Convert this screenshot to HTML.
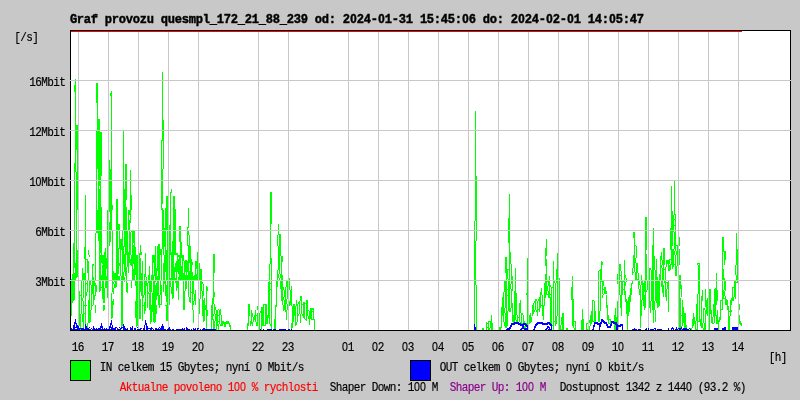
<!DOCTYPE html>
<html lang="cs"><head><meta charset="utf-8"><title>Graf provozu</title>
<style>html,body{margin:0;padding:0;background:#c8c8c8;overflow:hidden}svg{display:block;will-change:transform}text{font-family:"Liberation Mono","DejaVu Sans Mono",monospace;white-space:pre}.z{font-family:"Liberation Sans",sans-serif}</style></head><body>
<svg width="800" height="400" viewBox="0 0 800 400">
<rect x="0" y="0" width="800" height="400" fill="#c8c8c8"/>
<rect x="70" y="30" width="721" height="301" fill="#fff"/>
<path fill="#00ff00" shape-rendering="crispEdges" d="M71 279v37h1v-37zM72 274v29h1v-29zM73 243v58h1v-58zM74 85v7h1v-7zM74 163v105h1v-105zM74 273v27h1v-27zM75 79v93h1v-93zM75 263v17h1v-17zM76 125v25h1v-25zM76 172v106h1v-106zM77 125v85h1v-85zM77 250v27h1v-27zM79 291v35h1v-35zM80 295v1h1v-1zM80 314v16h1v-16zM81 281v33h1v-33zM82 268v13h1v-13zM82 298v3h1v-3zM82 314v8h1v-8zM83 273v7h1v-7zM83 281v17h1v-17zM83 301v29h1v-29zM84 247v12h1v-12zM84 273v7h1v-7zM84 305v1h1v-1zM84 313v1h1v-1zM85 195v85h1v-85zM85 281v47h1v-47zM86 259v1h1v-1zM86 283v1h1v-1zM86 292v4h1v-4zM86 305v1h1v-1zM87 259v14h1v-14zM87 281v11h1v-11zM87 323v5h1v-5zM88 250v5h1v-5zM88 261v19h1v-19zM88 300v23h1v-23zM89 255v2h1v-2zM89 281v42h1v-42zM90 281v4h1v-4zM90 310v12h1v-12zM91 285v25h1v-25zM92 264v16h1v-16zM92 281v13h1v-13zM92 305v1h1v-1zM93 264v2h1v-2zM93 277v3h1v-3zM93 281v24h1v-24zM94 281v5h1v-5zM94 295v5h1v-5zM95 233v47h1v-47zM95 283v13h1v-13zM95 305v8h1v-8zM96 83v20h1v-20zM96 131v102h1v-102zM96 285v7h1v-7zM97 83v86h1v-86zM97 210v23h1v-23zM98 119v122h1v-122zM99 119v67h1v-67zM99 189v103h1v-103zM100 132v121h1v-121zM100 255v36h1v-36zM101 132v44h1v-44zM101 207v56h1v-56zM101 275v6h1v-6zM101 287v1h1v-1zM102 255v9h1v-9zM102 265v34h1v-34zM103 255v48h1v-48zM103 305v6h1v-6zM104 252v29h1v-29zM104 288v15h1v-15zM104 305v5h1v-5zM105 248v40h1v-40zM106 258v11h1v-11zM106 276v12h1v-12zM107 210v88h1v-88zM108 147v13h1v-13zM108 193v62h1v-62zM109 160v52h1v-52zM109 222v24h1v-24zM110 93v3h1v-3zM110 169v73h1v-73zM111 91v140h1v-140zM111 293v26h1v-26zM112 205v5h1v-5zM112 231v49h1v-49zM112 281v11h1v-11zM112 301v17h1v-17zM113 271v10h1v-10zM113 282v2h1v-2zM113 288v6h1v-6zM113 299v6h1v-6zM114 273v9h1v-9zM114 284v4h1v-4zM115 273v15h1v-15zM116 199v88h1v-88zM117 199v81h1v-81zM118 224v7h1v-7zM118 248v26h1v-26zM118 276v4h1v-4zM119 224v25h1v-25zM119 263v3h1v-3zM119 276v4h1v-4zM120 239v37h1v-37zM121 239v11h1v-11zM121 276v52h1v-52zM122 231v49h1v-49zM122 281v45h1v-45zM123 131v100h1v-100zM123 246v18h1v-18zM123 272v8h1v-8zM124 189v58h1v-58zM124 254v18h1v-18zM124 277v5h1v-5zM125 164v112h1v-112zM126 164v36h1v-36zM126 207v48h1v-48zM126 267v13h1v-13zM126 281v11h1v-11zM127 231v36h1v-36zM127 283v10h1v-10zM128 210v21h1v-21zM128 252v21h1v-21zM129 210v5h1v-5zM129 220v43h1v-43zM130 170v53h1v-53zM130 232v23h1v-23zM130 259v6h1v-6zM131 195v15h1v-15zM131 231v1h1v-1zM131 255v11h1v-11zM131 281v7h1v-7zM132 231v49h1v-49zM133 231v12h1v-12zM133 245v19h1v-19zM133 269v11h1v-11zM134 231v49h1v-49zM135 247v28h1v-28zM135 280v6h1v-6zM135 301v17h1v-17zM136 255v72h1v-72zM137 255v71h1v-71zM138 264v16h1v-16zM139 253v66h1v-66zM140 245v10h1v-10zM140 258v22h1v-22zM140 281v11h1v-11zM140 299v20h1v-20zM141 252v3h1v-3zM141 273v23h1v-23zM142 261v19h1v-19zM142 281v40h1v-40zM143 280v1h1v-1zM143 295v3h1v-3zM143 305v1h1v-1zM144 274v21h1v-21zM144 302v12h1v-12zM145 253v24h1v-24zM145 280v31h1v-31zM146 277v9h1v-9zM147 283v25h1v-25zM148 275v5h1v-5zM148 281v2h1v-2zM148 292v2h1v-2zM149 266v26h1v-26zM149 293v17h1v-17zM150 280v44h1v-44zM151 275v17h1v-17zM151 305v17h1v-17zM152 255v25h1v-25zM152 293v19h1v-19zM153 255v8h1v-8zM153 275v47h1v-47zM154 255v21h1v-21zM154 280v43h1v-43zM155 246v36h1v-36zM155 285v37h1v-37zM156 268v12h1v-12zM156 283v17h1v-17zM156 305v9h1v-9zM157 246v25h1v-25zM157 276v20h1v-20zM158 244v61h1v-61zM159 244v36h1v-36zM159 295v13h1v-13zM160 249v6h1v-6zM160 281v14h1v-14zM160 304v1h1v-1zM161 140v70h1v-70zM161 249v31h1v-31zM161 285v20h1v-20zM162 72v69h1v-69zM162 169v35h1v-35zM162 208v41h1v-41zM163 120v49h1v-49zM163 210v45h1v-45zM163 263v17h1v-17zM163 281v11h1v-11zM164 228v19h1v-19zM164 255v29h1v-29zM165 208v64h1v-64zM165 280v16h1v-16zM165 305v1h1v-1zM166 196v35h1v-35zM166 250v30h1v-30zM166 285v17h1v-17zM166 305v16h1v-16zM167 196v125h1v-125zM168 241v14h1v-14zM169 225v55h1v-55zM169 281v24h1v-24zM170 192v63h1v-63zM170 278v9h1v-9zM171 189v4h1v-4zM171 252v29h1v-29zM171 287v7h1v-7zM172 241v58h1v-58zM173 196v102h1v-102zM174 196v59h1v-59zM174 267v14h1v-14zM175 209v46h1v-46zM175 263v9h1v-9zM175 278v5h1v-5zM176 253v2h1v-2zM176 261v30h1v-30zM177 253v19h1v-19zM177 281v7h1v-7zM178 255v2h1v-2zM178 259v15h1v-15zM178 277v23h1v-23zM179 226v16h1v-16zM179 255v26h1v-26zM180 226v54h1v-54zM181 242v16h1v-16zM181 266v14h1v-14zM182 255v25h1v-25zM183 255v6h1v-6zM183 273v37h1v-37zM184 261v20h1v-20zM184 291v19h1v-19zM185 260v12h1v-12zM185 275v16h1v-16zM186 260v20h1v-20zM186 281v8h1v-8zM187 227v19h1v-19zM187 261v11h1v-11zM187 275v6h1v-6zM188 208v20h1v-20zM188 231v4h1v-4zM188 245v52h1v-52zM189 235v28h1v-28zM189 271v10h1v-10zM189 297v5h1v-5zM190 246v57h1v-57zM191 259v22h1v-22zM191 292v1h1v-1zM192 262v3h1v-3zM192 272v38h1v-38zM193 276v18h1v-18zM193 301v4h1v-4zM193 310v13h1v-13zM194 275v6h1v-6zM194 294v7h1v-7zM195 261v19h1v-19zM195 290v15h1v-15zM196 261v8h1v-8zM196 274v6h1v-6zM197 252v29h1v-29zM198 263v47h1v-47zM199 263v18h1v-18zM199 299v15h1v-15zM200 269v30h1v-30zM201 269v22h1v-22zM202 282v2h1v-2zM202 291v25h1v-25zM203 284v12h1v-12zM203 300v22h1v-22zM204 298v23h1v-23zM205 305v5h1v-5zM206 286v44h1v-44zM207 287v4h1v-4zM207 310v6h1v-6zM211 305v25h1v-25zM212 298v22h1v-22zM213 254v50h1v-50zM213 314v2h1v-2zM213 319v11h1v-11zM214 254v19h1v-19zM214 292v5h1v-5zM214 304v10h1v-10zM214 321v9h1v-9zM215 307v3h1v-3zM215 314v7h1v-7zM215 329v1h1v-1zM216 310v20h1v-20zM217 310v16h1v-16zM218 309v1h1v-1zM218 315v1h1v-1zM218 321v1h1v-1zM218 324v6h1v-6zM219 310v14h1v-14zM220 309v6h1v-6zM220 324v2h1v-2zM221 315v11h1v-11zM222 321v5h1v-5zM223 321v3h1v-3zM224 322v5h1v-5zM225 322v5h1v-5zM226 321v3h1v-3zM227 321v3h1v-3zM228 321v3h1v-3zM229 323v4h1v-4zM230 325v5h1v-5zM247 323v7h1v-7zM248 304v22h1v-22zM249 304v12h1v-12zM250 321v5h1v-5zM251 310v14h1v-14zM252 313v4h1v-4zM252 322v4h1v-4zM253 317v5h1v-5zM254 315v5h1v-5zM255 310v12h1v-12zM256 315v1h1v-1zM256 322v4h1v-4zM257 306v4h1v-4zM257 313v13h1v-13zM258 306v7h1v-7zM258 326v4h1v-4zM259 313v17h1v-17zM260 311v2h1v-2zM260 329v1h1v-1zM261 307v23h1v-23zM262 307v19h1v-19zM263 304v22h1v-22zM264 304v1h1v-1zM264 325v1h1v-1zM265 304v22h1v-22zM266 304v20h1v-20zM267 315v9h1v-9zM268 282v36h1v-36zM269 264v60h1v-60zM270 192v72h1v-72zM270 283v1h1v-1zM270 289v1h1v-1zM270 324v2h1v-2zM271 192v32h1v-32zM271 258v72h1v-72zM274 319v11h1v-11zM275 305v25h1v-25zM276 281v26h1v-26zM277 235v11h1v-11zM277 270v17h1v-17zM278 224v11h1v-11zM278 246v24h1v-24zM278 274v4h1v-4zM278 280v1h1v-1zM279 234v40h1v-40zM279 278v3h1v-3zM280 234v22h1v-22zM280 274v4h1v-4zM280 281v8h1v-8zM281 256v45h1v-45zM282 256v6h1v-6zM282 275v30h1v-30zM283 287v3h1v-3zM283 297v3h1v-3zM283 305v6h1v-6zM284 290v7h1v-7zM284 300v10h1v-10zM285 287v25h1v-25zM286 281v6h1v-6zM286 299v5h1v-5zM286 310v10h1v-10zM287 281v18h1v-18zM287 304v6h1v-6zM288 278v23h1v-23zM289 278v12h1v-12zM289 301v5h1v-5zM290 290v15h1v-15zM291 286v20h1v-20zM291 323v7h1v-7zM292 306v22h1v-22zM293 304v18h1v-18zM294 304v12h1v-12zM295 306v20h1v-20zM296 300v6h1v-6zM296 322v3h1v-3zM297 304v18h1v-18zM298 302v2h1v-2zM298 314v2h1v-2zM299 301v13h1v-13zM300 296v5h1v-5zM300 314v9h1v-9zM301 296v18h1v-18zM302 304v1h1v-1zM302 314v2h1v-2zM303 302v16h1v-16zM304 302v17h1v-17zM305 303v1h1v-1zM305 319v1h1v-1zM306 300v21h1v-21zM307 300v16h1v-16zM308 310v1h1v-1zM308 316v3h1v-3zM309 311v14h1v-14zM310 308v11h1v-11zM311 308v12h1v-12zM312 308v2h1v-2zM312 311v1h1v-1zM312 319v1h1v-1zM313 308v12h1v-12zM314 319v11h1v-11zM474 221v105h1v-105zM475 111v110h1v-110zM475 241v44h1v-44zM476 176v65h1v-65zM476 285v45h1v-45zM482 328v2h1v-2zM483 328v2h1v-2zM486 322v8h1v-8zM487 323v1h1v-1zM487 327v1h1v-1zM488 321v9h1v-9zM489 321v1h1v-1zM489 328v2h1v-2zM490 321v7h1v-7zM491 315v15h1v-15zM492 323v7h1v-7zM499 327v3h1v-3zM500 327v3h1v-3zM501 307v21h1v-21zM502 297v19h1v-19zM503 292v30h1v-30zM504 281v11h1v-11zM504 308v5h1v-5zM504 322v4h1v-4zM505 257v16h1v-16zM505 281v27h1v-27zM505 313v15h1v-15zM506 257v71h1v-71zM507 269v10h1v-10zM507 289v1h1v-1zM507 295v1h1v-1zM507 311v15h1v-15zM508 218v25h1v-25zM508 269v1h1v-1zM508 279v32h1v-32zM509 194v118h1v-118zM510 252v12h1v-12zM510 284v5h1v-5zM510 308v4h1v-4zM511 264v20h1v-20zM511 289v19h1v-19zM512 276v15h1v-15zM512 303v19h1v-19zM513 315v9h1v-9zM514 291v31h1v-31zM515 268v52h1v-52zM516 293v22h1v-22zM516 320v2h1v-2zM517 315v7h1v-7zM518 317v1h1v-1zM518 322v2h1v-2zM519 303v19h1v-19zM520 300v13h1v-13zM520 322v4h1v-4zM521 313v13h1v-13zM522 313v2h1v-2zM522 323v1h1v-1zM523 315v11h1v-11zM524 321v2h1v-2zM524 326v2h1v-2zM525 323v7h1v-7zM526 293v2h1v-2zM526 323v1h1v-1zM526 328v2h1v-2zM527 258v70h1v-70zM529 315v9h1v-9zM530 313v10h1v-10zM531 317v5h1v-5zM532 305v11h1v-11zM533 303v11h1v-11zM534 301v2h1v-2zM534 310v2h1v-2zM535 299v11h1v-11zM536 299v2h1v-2zM536 310v2h1v-2zM537 301v15h1v-15zM538 299v2h1v-2zM538 309v1h1v-1zM539 297v15h1v-15zM540 292v16h1v-16zM541 288v7h1v-7zM541 305v1h1v-1zM542 295v21h1v-21zM543 305v15h1v-15zM544 283v23h1v-23zM545 248v18h1v-18zM545 274v24h1v-24zM546 239v17h1v-17zM546 259v36h1v-36zM547 281v1h1v-1zM547 286v5h1v-5zM547 294v1h1v-1zM548 281v5h1v-5zM548 291v7h1v-7zM549 276v22h1v-22zM550 285v2h1v-2zM550 294v1h1v-1zM550 297v29h1v-29zM551 287v43h1v-43zM552 287v1h1v-1zM552 325v1h1v-1zM553 261v69h1v-69zM554 281v2h1v-2zM554 321v1h1v-1zM555 283v43h1v-43zM556 269v14h1v-14zM556 316v8h1v-8zM557 253v63h1v-63zM558 265v13h1v-13zM558 294v1h1v-1zM559 278v52h1v-52zM560 325v5h1v-5zM561 317v8h1v-8zM561 329v1h1v-1zM562 313v17h1v-17zM563 313v17h1v-17zM566 328v2h1v-2zM567 328v2h1v-2zM571 287v13h1v-13zM572 276v50h1v-50zM573 299v29h1v-29zM574 321v1h1v-1zM574 328v2h1v-2zM575 321v9h1v-9zM581 320v10h1v-10zM582 309v21h1v-21zM583 319v11h1v-11zM586 323v7h1v-7zM587 323v1h1v-1zM587 329v1h1v-1zM588 323v7h1v-7zM589 320v3h1v-3zM589 326v4h1v-4zM590 315v11h1v-11zM591 311v13h1v-13zM592 300v22h1v-22zM593 300v1h1v-1zM593 321v1h1v-1zM594 301v23h1v-23zM595 311v11h1v-11zM598 271v51h1v-51zM599 270v1h1v-1zM599 280v1h1v-1zM599 311v11h1v-11zM600 269v11h1v-11zM600 281v30h1v-30zM601 261v21h1v-21zM602 262v3h1v-3zM602 281v13h1v-13zM602 295v3h1v-3zM603 281v5h1v-5zM603 289v1h1v-1zM603 294v1h1v-1zM604 287v7h1v-7zM605 287v7h1v-7zM606 291v3h1v-3zM606 295v13h1v-13zM607 305v15h1v-15zM608 315v9h1v-9zM609 319v1h1v-1zM609 323v1h1v-1zM610 319v5h1v-5zM614 315v15h1v-15zM615 308v22h1v-22zM616 317v13h1v-13zM617 274v10h1v-10zM617 301v29h1v-29zM618 265v9h1v-9zM618 284v11h1v-11zM619 264v31h1v-31zM620 264v7h1v-7zM620 275v1h1v-1zM620 281v1h1v-1zM620 295v13h1v-13zM621 271v45h1v-45zM622 281v14h1v-14zM623 281v1h1v-1zM623 289v1h1v-1zM624 260v35h1v-35zM625 275v3h1v-3zM625 282v4h1v-4zM625 291v11h1v-11zM626 278v4h1v-4zM626 299v15h1v-15zM627 301v29h1v-29zM628 297v19h1v-19zM629 295v17h1v-17zM630 288v14h1v-14zM631 283v12h1v-12zM632 268v7h1v-7zM632 281v3h1v-3zM633 232v6h1v-6zM633 255v13h1v-13zM633 272v1h1v-1zM634 232v40h1v-40zM635 245v1h1v-1zM635 258v5h1v-5zM635 272v8h1v-8zM636 246v12h1v-12zM636 263v17h1v-17zM637 263v10h1v-10zM637 279v1h1v-1zM638 273v16h1v-16zM639 281v4h1v-4zM639 289v6h1v-6zM640 285v43h1v-43zM641 275v10h1v-10zM641 300v16h1v-16zM642 281v19h1v-19zM643 283v23h1v-23zM644 281v11h1v-11zM644 295v15h1v-15zM645 217v91h1v-91zM646 217v33h1v-33zM646 254v27h1v-27zM646 290v2h1v-2zM647 281v9h1v-9zM649 268v40h1v-40zM650 268v2h1v-2zM650 301v12h1v-12zM651 270v31h1v-31zM652 245v65h1v-65zM653 228v95h1v-95zM654 256v14h1v-14zM654 301v9h1v-9zM655 270v31h1v-31zM655 310v12h1v-12zM656 259v44h1v-44zM657 277v31h1v-31zM658 281v26h1v-26zM659 274v32h1v-32zM660 256v25h1v-25zM661 252v8h1v-8zM661 265v3h1v-3zM661 281v6h1v-6zM662 260v5h1v-5zM662 268v25h1v-25zM663 248v33h1v-33zM663 285v12h1v-12zM664 248v17h1v-17zM664 269v1h1v-1zM664 281v2h1v-2zM665 267v30h1v-30zM666 260v7h1v-7zM666 282v1h1v-1zM666 289v12h1v-12zM667 260v4h1v-4zM667 282v7h1v-7zM668 260v11h1v-11zM668 280v32h1v-32zM669 259v5h1v-5zM669 265v6h1v-6zM670 228v22h1v-22zM670 259v1h1v-1zM670 264v6h1v-6zM671 186v79h1v-79zM672 211v35h1v-35zM672 249v20h1v-20zM673 215v17h1v-17zM673 249v18h1v-18zM674 181v34h1v-34zM674 219v1h1v-1zM674 225v1h1v-1zM674 232v17h1v-17zM674 251v4h1v-4zM674 264v1h1v-1zM675 214v37h1v-37zM675 255v21h1v-21zM676 245v1h1v-1zM676 251v4h1v-4zM676 266v10h1v-10zM677 245v21h1v-21zM678 228v18h1v-18zM679 237v9h1v-9zM679 249v16h1v-16zM679 275v55h1v-55zM680 275v14h1v-14zM680 298v32h1v-32zM681 285v12h1v-12zM681 315v1h1v-1zM681 326v4h1v-4zM682 300v26h1v-26zM683 307v16h1v-16zM684 313v15h1v-15zM685 313v17h1v-17zM686 325v5h1v-5zM690 328v2h1v-2zM691 328v2h1v-2zM692 319v9h1v-9zM693 313v13h1v-13zM694 317v7h1v-7zM695 321v9h1v-9zM696 304v17h1v-17zM696 329v1h1v-1zM697 263v2h1v-2zM697 294v36h1v-36zM698 263v1h1v-1zM698 265v29h1v-29zM698 321v1h1v-1zM699 263v59h1v-59zM700 319v7h1v-7zM701 296v32h1v-32zM702 290v11h1v-11zM702 323v5h1v-5zM703 308v15h1v-15zM703 328v2h1v-2zM704 308v2h1v-2zM704 323v7h1v-7zM705 289v18h1v-18zM705 310v20h1v-20zM706 300v14h1v-14zM707 298v18h1v-18zM708 290v8h1v-8zM708 315v1h1v-1zM709 289v41h1v-41zM710 289v25h1v-25zM711 310v13h1v-13zM712 317v7h1v-7zM713 304v13h1v-13zM713 323v1h1v-1zM714 289v34h1v-34zM715 288v28h1v-28zM716 273v32h1v-32zM716 315v9h1v-9zM717 290v11h1v-11zM717 310v14h1v-14zM718 320v10h1v-10zM719 317v5h1v-5zM720 300v20h1v-20zM721 300v1h1v-1zM721 309v1h1v-1zM722 237v73h1v-73zM723 237v15h1v-15zM723 269v12h1v-12zM723 290v9h1v-9zM724 251v14h1v-14zM724 278v2h1v-2zM724 281v9h1v-9zM724 291v5h1v-5zM724 298v1h1v-1zM725 251v9h1v-9zM725 280v11h1v-11zM725 296v9h1v-9zM726 299v6h1v-6zM727 300v10h1v-10zM728 306v24h1v-24zM729 311v1h1v-1zM729 316v14h1v-14zM730 300v16h1v-16zM731 298v7h1v-7zM731 310v2h1v-2zM732 287v14h1v-14zM733 287v1h1v-1zM733 297v4h1v-4zM734 280v17h1v-17zM735 265v10h1v-10zM735 280v19h1v-19zM736 233v32h1v-32zM736 275v5h1v-5zM736 282v1h1v-1zM737 249v34h1v-34zM738 304v18h1v-18zM739 304v6h1v-6zM739 315v9h1v-9zM740 321v4h1v-4zM741 323v3h1v-3z"/>
<g fill="#c8c8c8" shape-rendering="crispEdges"><rect x="78" y="31" width="1" height="299"/><rect x="108" y="31" width="1" height="299"/><rect x="138" y="31" width="1" height="299"/><rect x="168" y="31" width="1" height="299"/><rect x="198" y="31" width="1" height="299"/><rect x="258" y="31" width="1" height="299"/><rect x="288" y="31" width="1" height="299"/><rect x="348" y="31" width="1" height="299"/><rect x="378" y="31" width="1" height="299"/><rect x="408" y="31" width="1" height="299"/><rect x="438" y="31" width="1" height="299"/><rect x="468" y="31" width="1" height="299"/><rect x="498" y="31" width="1" height="299"/><rect x="528" y="31" width="1" height="299"/><rect x="558" y="31" width="1" height="299"/><rect x="588" y="31" width="1" height="299"/><rect x="618" y="31" width="1" height="299"/><rect x="648" y="31" width="1" height="299"/><rect x="678" y="31" width="1" height="299"/><rect x="708" y="31" width="1" height="299"/><rect x="738" y="31" width="1" height="299"/></g>
<path fill="#0000ff" shape-rendering="crispEdges" d="M71 328v2h1v-2zM72 329v1h1v-1zM73 325v5h1v-5zM74 322v8h1v-8zM75 319v5h1v-5zM75 327v1h1v-1zM75 329v1h1v-1zM76 323v5h1v-5zM76 329v1h1v-1zM77 325v5h1v-5zM78 326v4h1v-4zM79 328v2h1v-2zM80 328v1h1v-1zM81 328v2h1v-2zM82 328v2h1v-2zM83 328v2h1v-2zM84 329v1h1v-1zM85 324v6h1v-6zM86 326v4h1v-4zM87 328v2h1v-2zM88 328v2h1v-2zM89 327v1h1v-1zM89 329v1h1v-1zM90 329v1h1v-1zM91 328v1h1v-1zM92 329v1h1v-1zM93 326v4h1v-4zM94 328v2h1v-2zM95 329v1h1v-1zM96 328v2h1v-2zM97 329v1h1v-1zM98 328v2h1v-2zM99 328v2h1v-2zM100 326v4h1v-4zM101 323v5h1v-5zM101 329v1h1v-1zM102 326v4h1v-4zM103 329v1h1v-1zM104 328v2h1v-2zM105 329v1h1v-1zM106 328v2h1v-2zM107 329v1h1v-1zM108 329v1h1v-1zM109 326v4h1v-4zM110 323v5h1v-5zM110 329v1h1v-1zM111 320v5h1v-5zM111 327v3h1v-3zM112 325v5h1v-5zM113 328v2h1v-2zM114 328v2h1v-2zM115 327v3h1v-3zM116 327v1h1v-1zM117 328v2h1v-2zM118 329v1h1v-1zM119 327v1h1v-1zM119 329v1h1v-1zM120 328v2h1v-2zM121 327v2h1v-2zM122 327v1h1v-1zM123 324v6h1v-6zM124 326v4h1v-4zM125 328v2h1v-2zM126 329v1h1v-1zM127 328v2h1v-2zM130 327v3h1v-3zM131 328v2h1v-2zM132 326v4h1v-4zM134 328v2h1v-2zM135 328v2h1v-2zM137 327v1h1v-1zM137 329v1h1v-1zM138 329v1h1v-1zM139 329v1h1v-1zM140 328v2h1v-2zM141 328v1h1v-1zM143 328v2h1v-2zM144 325v5h1v-5zM145 320v5h1v-5zM146 323v7h1v-7zM147 326v4h1v-4zM148 328v1h1v-1zM149 328v1h1v-1zM150 328v2h1v-2zM151 327v3h1v-3zM152 328v1h1v-1zM153 329v1h1v-1zM155 328v2h1v-2zM156 328v2h1v-2zM157 329v1h1v-1zM158 328v2h1v-2zM159 327v1h1v-1zM159 329v1h1v-1zM160 328v2h1v-2zM161 326v4h1v-4zM162 324v6h1v-6zM163 326v4h1v-4zM164 329v1h1v-1zM165 329v1h1v-1zM167 329v1h1v-1zM168 328v2h1v-2zM169 327v3h1v-3zM170 329v1h1v-1zM172 329v1h1v-1zM173 329v1h1v-1zM176 329v1h1v-1zM177 329v1h1v-1zM178 329v1h1v-1zM179 329v1h1v-1zM180 329v1h1v-1zM181 329v1h1v-1zM182 328v2h1v-2zM183 329v1h1v-1zM184 328v2h1v-2zM186 327v3h1v-3zM187 328v2h1v-2zM188 329v1h1v-1zM189 329v1h1v-1zM191 329v1h1v-1zM193 328v2h1v-2zM194 329v1h1v-1zM195 328v2h1v-2zM197 328v2h1v-2zM198 328v1h1v-1zM200 329v1h1v-1zM202 329v1h1v-1zM203 328v2h1v-2zM204 328v2h1v-2zM205 329v1h1v-1zM206 329v1h1v-1zM207 329v1h1v-1zM208 329v1h1v-1zM209 329v1h1v-1zM210 329v1h1v-1zM211 329v1h1v-1zM212 329v1h1v-1zM213 329v1h1v-1zM214 329v1h1v-1zM215 329v1h1v-1zM260 329v1h1v-1zM263 329v1h1v-1zM267 329v1h1v-1zM268 329v1h1v-1zM269 329v1h1v-1zM270 329v1h1v-1zM271 329v1h1v-1zM273 329v1h1v-1zM274 329v1h1v-1zM275 329v1h1v-1zM279 329v1h1v-1zM280 329v1h1v-1zM281 329v1h1v-1zM282 329v1h1v-1zM283 329v1h1v-1zM284 329v1h1v-1zM285 329v1h1v-1zM288 329v1h1v-1zM289 329v1h1v-1zM291 329v1h1v-1zM474 324v6h1v-6zM475 327v3h1v-3zM506 329v1h1v-1zM507 328v2h1v-2zM508 328v2h1v-2zM509 327v3h1v-3zM510 325v4h1v-4zM511 323v4h1v-4zM512 323v2h1v-2zM513 323v2h1v-2zM514 322v3h1v-3zM515 322v2h1v-2zM516 322v2h1v-2zM517 322v2h1v-2zM518 322v3h1v-3zM519 323v2h1v-2zM520 323v3h1v-3zM520 329v1h1v-1zM521 324v2h1v-2zM521 328v2h1v-2zM522 324v5h1v-5zM523 323v6h1v-6zM524 323v2h1v-2zM524 328v2h1v-2zM525 323v3h1v-3zM525 328v2h1v-2zM526 324v3h1v-3zM526 328v2h1v-2zM527 325v5h1v-5zM533 329v1h1v-1zM534 326v4h1v-4zM535 324v4h1v-4zM536 323v3h1v-3zM537 322v3h1v-3zM538 322v2h1v-2zM539 322v2h1v-2zM540 322v2h1v-2zM541 322v2h1v-2zM542 322v3h1v-3zM543 323v2h1v-2zM544 323v2h1v-2zM545 323v2h1v-2zM545 329v1h1v-1zM546 323v2h1v-2zM546 328v2h1v-2zM547 322v3h1v-3zM547 326v3h1v-3zM548 322v2h1v-2zM548 326v2h1v-2zM548 329v1h1v-1zM549 322v3h1v-3zM549 327v3h1v-3zM550 323v3h1v-3zM550 329v1h1v-1zM551 324v6h1v-6zM592 329v1h1v-1zM593 325v5h1v-5zM594 322v5h1v-5zM595 322v2h1v-2zM596 322v2h1v-2zM597 322v3h1v-3zM598 323v2h1v-2zM599 323v7h1v-7zM600 322v5h1v-5zM601 319v5h1v-5zM602 319v3h1v-3zM603 320v3h1v-3zM604 321v3h1v-3zM605 322v2h1v-2zM606 322v4h1v-4zM607 324v4h1v-4zM608 326v2h1v-2zM609 326v2h1v-2zM610 324v4h1v-4zM611 321v5h1v-5zM612 321v2h1v-2zM613 321v3h1v-3zM614 322v2h1v-2zM615 322v3h1v-3zM616 322v8h1v-8zM617 324v6h1v-6zM618 325v2h1v-2zM619 325v2h1v-2zM620 324v3h1v-3zM621 324v2h1v-2zM622 324v6h1v-6zM632 329v1h1v-1zM633 329v1h1v-1zM634 328v2h1v-2zM635 329v1h1v-1zM636 329v1h1v-1zM638 329v1h1v-1zM639 329v1h1v-1zM640 329v1h1v-1zM645 329v1h1v-1zM646 328v2h1v-2zM648 328v2h1v-2zM650 329v1h1v-1zM651 329v1h1v-1zM652 329v1h1v-1zM653 329v1h1v-1zM654 328v1h1v-1zM655 328v2h1v-2zM657 329v1h1v-1zM658 329v1h1v-1zM659 329v1h1v-1zM660 329v1h1v-1zM661 329v1h1v-1zM668 328v2h1v-2zM671 328v2h1v-2zM672 327v2h1v-2zM673 328v2h1v-2zM675 329v1h1v-1zM676 327v3h1v-3zM677 329v1h1v-1zM678 328v1h1v-1zM679 328v2h1v-2zM680 328v2h1v-2zM681 327v2h1v-2zM682 329v1h1v-1zM683 328v2h1v-2zM684 328v2h1v-2zM685 328v2h1v-2zM686 328v2h1v-2zM687 329v1h1v-1zM688 329v1h1v-1zM689 328v1h1v-1zM690 329v1h1v-1zM714 328v2h1v-2zM715 328v2h1v-2zM716 328v2h1v-2zM717 328v2h1v-2zM722 328v2h1v-2zM723 328v2h1v-2zM724 327v3h1v-3zM725 327v3h1v-3zM732 327v3h1v-3zM733 327v3h1v-3zM734 327v3h1v-3zM735 327v3h1v-3zM736 327v3h1v-3zM737 327v3h1v-3z"/>
<path fill="#000" shape-rendering="crispEdges" d="M70 30h721v1h-721zM70 330h721v1h-721zM70 30h1v301h-1zM790 30h1v301h-1z"/>
<rect x="71" y="31" width="671" height="1" fill="#ff0000" shape-rendering="crispEdges"/>
<g fill="#c8c8c8" shape-rendering="crispEdges"><rect x="70" y="80" width="721" height="1"/><rect x="70" y="130" width="721" height="1"/><rect x="70" y="180" width="721" height="1"/><rect x="70" y="230" width="721" height="1"/><rect x="70" y="280" width="721" height="1"/></g>
<text transform="translate(70 23) scale(0.93 1)" fill="#000" stroke="#000" stroke-width="0.45" font-size="13.0" font-weight="bold" x="-0.14 7.39 14.92 22.44 29.97 37.5 45.02 52.55 60.08 67.6 75.13 82.66 90.19 97.71 105.24 112.77 120.29 127.82 135.35 142.87 150.4 157.93 165.45 172.98 180.51 188.03 195.56 203.09 210.62 218.14 225.67 233.2 240.72 248.25 255.78 263.3 270.83 278.36 285.88 293.41 301.37 308.46 315.99 323.52 331.48 338.57 346.1 353.63 361.15 368.68 376.21 383.73 391.26 398.79 406.31 413.84 421.8 428.9 436.42 443.95 451.48 459 466.53 474.06 482.01 489.11 496.64 504.16 512.12 519.22 526.74 534.7 541.8 549.33 556.85 564.38 571.91 579.86 586.96 594.49 602.01 609.54">Graf provozu quesmpl_172_21_88_239 od: 2<tspan class="z" font-size="12.46">0</tspan>24-<tspan class="z" font-size="12.46">0</tspan>1-31 15:45:<tspan class="z" font-size="12.46">0</tspan>6 do: 2<tspan class="z" font-size="12.46">0</tspan>24-<tspan class="z" font-size="12.46">0</tspan>2-<tspan class="z" font-size="12.46">0</tspan>1 14:<tspan class="z" font-size="12.46">0</tspan>5:47</text>
<text transform="translate(14.5 41) scale(0.85 1)" fill="#000" stroke="#000" stroke-width="0.18" font-size="13.0" x="-0.37 6.69 13.75 20.81">[/s]</text>
<text transform="translate(29.5 86) scale(0.85 1)" fill="#000" stroke="#000" stroke-width="0.18" font-size="13.0" x="-0.37 6.69 13.75 20.81 27.86 34.92">16Mbit</text>
<text transform="translate(29.5 136) scale(0.85 1)" fill="#000" stroke="#000" stroke-width="0.18" font-size="13.0" x="-0.37 6.69 13.75 20.81 27.86 34.92">12Mbit</text>
<text transform="translate(29.5 186) scale(0.85 1)" fill="#000" stroke="#000" stroke-width="0.18" font-size="13.0" x="-0.37 7.12 13.75 20.81 27.86 34.92">1<tspan class="z" font-size="12.46">0</tspan>Mbit</text>
<text transform="translate(29.5 236) scale(0.85 1)" fill="#000" stroke="#000" stroke-width="0.18" font-size="13.0" x="-0.37 6.69 13.75 20.81 27.86 34.92"> 6Mbit</text>
<text transform="translate(29.5 286) scale(0.85 1)" fill="#000" stroke="#000" stroke-width="0.18" font-size="13.0" x="-0.37 6.69 13.75 20.81 27.86 34.92"> 3Mbit</text>
<text transform="translate(72 351) scale(0.85 1)" fill="#000" stroke="#000" stroke-width="0.18" font-size="13.0" x="-0.37 6.69">16</text>
<text transform="translate(102 351) scale(0.85 1)" fill="#000" stroke="#000" stroke-width="0.18" font-size="13.0" x="-0.37 6.69">17</text>
<text transform="translate(132 351) scale(0.85 1)" fill="#000" stroke="#000" stroke-width="0.18" font-size="13.0" x="-0.37 6.69">18</text>
<text transform="translate(162 351) scale(0.85 1)" fill="#000" stroke="#000" stroke-width="0.18" font-size="13.0" x="-0.37 6.69">19</text>
<text transform="translate(192 351) scale(0.85 1)" fill="#000" stroke="#000" stroke-width="0.18" font-size="13.0" x="-0.37 7.12">2<tspan class="z" font-size="12.46">0</tspan></text>
<text transform="translate(252 351) scale(0.85 1)" fill="#000" stroke="#000" stroke-width="0.18" font-size="13.0" x="-0.37 6.69">22</text>
<text transform="translate(282 351) scale(0.85 1)" fill="#000" stroke="#000" stroke-width="0.18" font-size="13.0" x="-0.37 6.69">23</text>
<text transform="translate(342 351) scale(0.85 1)" fill="#000" stroke="#000" stroke-width="0.18" font-size="13.0" x="0.06 6.69"><tspan class="z" font-size="12.46">0</tspan>1</text>
<text transform="translate(372 351) scale(0.85 1)" fill="#000" stroke="#000" stroke-width="0.18" font-size="13.0" x="0.06 6.69"><tspan class="z" font-size="12.46">0</tspan>2</text>
<text transform="translate(402 351) scale(0.85 1)" fill="#000" stroke="#000" stroke-width="0.18" font-size="13.0" x="0.06 6.69"><tspan class="z" font-size="12.46">0</tspan>3</text>
<text transform="translate(432 351) scale(0.85 1)" fill="#000" stroke="#000" stroke-width="0.18" font-size="13.0" x="0.06 6.69"><tspan class="z" font-size="12.46">0</tspan>4</text>
<text transform="translate(462 351) scale(0.85 1)" fill="#000" stroke="#000" stroke-width="0.18" font-size="13.0" x="0.06 6.69"><tspan class="z" font-size="12.46">0</tspan>5</text>
<text transform="translate(492 351) scale(0.85 1)" fill="#000" stroke="#000" stroke-width="0.18" font-size="13.0" x="0.06 6.69"><tspan class="z" font-size="12.46">0</tspan>6</text>
<text transform="translate(522 351) scale(0.85 1)" fill="#000" stroke="#000" stroke-width="0.18" font-size="13.0" x="0.06 6.69"><tspan class="z" font-size="12.46">0</tspan>7</text>
<text transform="translate(552 351) scale(0.85 1)" fill="#000" stroke="#000" stroke-width="0.18" font-size="13.0" x="0.06 6.69"><tspan class="z" font-size="12.46">0</tspan>8</text>
<text transform="translate(582 351) scale(0.85 1)" fill="#000" stroke="#000" stroke-width="0.18" font-size="13.0" x="0.06 6.69"><tspan class="z" font-size="12.46">0</tspan>9</text>
<text transform="translate(612 351) scale(0.85 1)" fill="#000" stroke="#000" stroke-width="0.18" font-size="13.0" x="-0.37 7.12">1<tspan class="z" font-size="12.46">0</tspan></text>
<text transform="translate(642 351) scale(0.85 1)" fill="#000" stroke="#000" stroke-width="0.18" font-size="13.0" x="-0.37 6.69">11</text>
<text transform="translate(672 351) scale(0.85 1)" fill="#000" stroke="#000" stroke-width="0.18" font-size="13.0" x="-0.37 6.69">12</text>
<text transform="translate(702 351) scale(0.85 1)" fill="#000" stroke="#000" stroke-width="0.18" font-size="13.0" x="-0.37 6.69">13</text>
<text transform="translate(732 351) scale(0.85 1)" fill="#000" stroke="#000" stroke-width="0.18" font-size="13.0" x="-0.37 6.69">14</text>
<text transform="translate(769 361) scale(0.85 1)" fill="#000" stroke="#000" stroke-width="0.18" font-size="13.0" x="-0.37 6.69 13.75">[h]</text>
<rect x="70" y="360" width="21" height="21" fill="#000"/><rect x="71" y="361" width="19" height="19" fill="#00ff00"/>
<rect x="410" y="360" width="21" height="21" fill="#000"/><rect x="411" y="361" width="19" height="19" fill="#0000ff"/>
<text transform="translate(100 371) scale(0.85 1)" fill="#000" stroke="#000" stroke-width="0.18" font-size="13.0" x="-0.37 6.69 13.75 20.81 27.86 34.92 41.98 49.04 56.1 63.16 70.22 77.28 84.33 91.39 98.45 105.51 112.57 119.63 126.69 133.75 140.81 147.86 154.92 161.98 169.04 176.1 183.59 190.22 197.28 204.33 211.39 218.45 225.51 232.57">IN celkem 15 Gbytes; nyní <tspan class="z" font-size="12.46">0</tspan> Mbit/s</text>
<text transform="translate(440 371) scale(0.85 1)" fill="#000" stroke="#000" stroke-width="0.18" font-size="13.0" x="-0.37 6.69 13.75 20.81 27.86 34.92 41.98 49.04 56.1 63.16 70.22 77.71 84.33 91.39 98.45 105.51 112.57 119.63 126.69 133.75 140.81 147.86 154.92 161.98 169.04 176.1 183.59 190.22 197.28 204.33 211.39 218.45 225.51 232.57">OUT celkem <tspan class="z" font-size="12.46">0</tspan> Gbytes; nyní <tspan class="z" font-size="12.46">0</tspan> kbit/s</text>
<text transform="translate(120 391) scale(0.85 1)" fill="#ff0000" stroke="#ff0000" stroke-width="0.18" font-size="13.0" x="-0.37 6.69 13.75 20.81 27.86 34.92 41.98 49.04 56.1 63.16 70.22 77.28 84.33 91.39 98.45 105.51 112.57 119.63 126.69 134.18 141.24 147.86 154.92 161.98 169.04 176.1 183.16 190.22 197.28 204.33 211.39 218.45 225.51">Aktualne povoleno 1<tspan class="z" font-size="12.46">00</tspan> % rychlosti</text>
<text transform="translate(330 391) scale(0.85 1)" fill="#000" stroke="#000" stroke-width="0.18" font-size="13.0" x="-0.37 6.69 13.75 20.81 27.86 34.92 41.98 49.04 56.1 63.16 70.22 77.28 84.33 91.39 98.88 105.94 112.57 119.63">Shaper Down: 1<tspan class="z" font-size="12.46">00</tspan> M</text>
<text transform="translate(450 391) scale(0.85 1)" fill="#8b008b" stroke="#8b008b" stroke-width="0.18" font-size="13.0" x="-0.37 6.69 13.75 20.81 27.86 34.92 41.98 49.04 56.1 63.16 70.22 77.28 84.76 91.82 98.45 105.51">Shaper Up: 1<tspan class="z" font-size="12.46">00</tspan> M</text>
<text transform="translate(560 391) scale(0.85 1)" fill="#000" stroke="#000" stroke-width="0.18" font-size="13.0" x="-0.37 6.69 13.75 20.81 27.86 34.92 41.98 49.04 56.1 63.16 70.22 77.28 84.33 91.39 98.45 105.51 112.57 119.63 126.69 133.75 140.81 148.29 154.92 161.98 169.04 176.1 183.16 190.22 197.28 204.33 211.39">Dostupnost 1342 z 144<tspan class="z" font-size="12.46">0</tspan> (93.2 %)</text>
</svg></body></html>
